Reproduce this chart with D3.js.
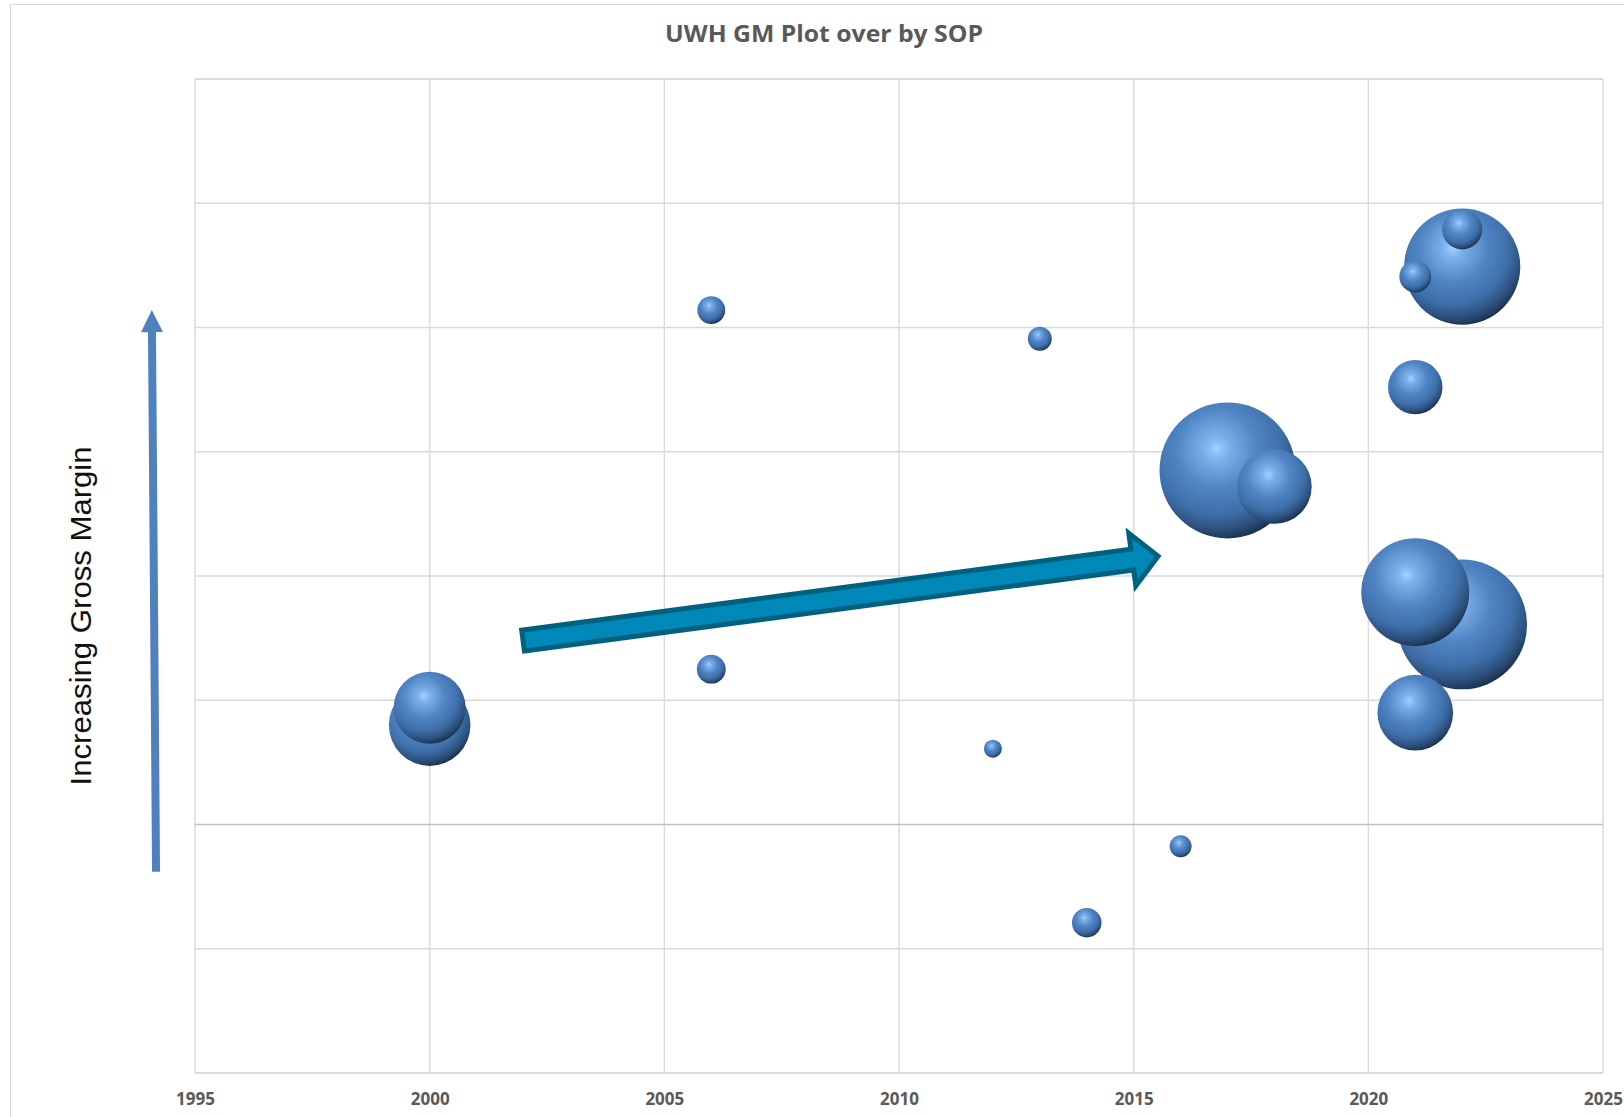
<!DOCTYPE html>
<html>
<head>
<meta charset="utf-8">
<script src="https://cdn.jsdelivr.net/npm/d3@7"></script>
<style>
  body { margin: 0; background: #fff; }
</style>
</head>
<body>
<script>
"use strict";

const years = [2000, 2000, 2006, 2006, 2012, 2013, 2014, 2016, 2017, 2018, 2021, 2021, 2021, 2021, 2022, 2022, 2022];
const grossMargin = [8.0, 9.4, 41.4, 12.5, 6.1, 39.1, -7.9, -1.75, 28.5, 27.2, 35.2, 18.7, 9.0, 44.1, 44.9, 47.9, 16.1];
const bubbleSizes = [36, 28, 4.2, 4.5, 1.75, 3.1, 4.7, 2.6, 100, 30, 16, 63, 31, 5.5, 73, 8.7, 91];
const xTicks = [1995, 2000, 2005, 2010, 2015, 2020, 2025];
const yTicks = [-20, -10, 0, 10, 20, 30, 40, 50, 60];
const chartTitle = "UWH GM Plot over by SOP";
const axisNote = "Increasing Gross Margin";

// annotation arrows, given in data units
const trendArrow = [[2001.99, 14.8], [2015.52, 21.6]];
const marginArrow = [[1994.17, -3.8], [1994.08, 41.4]];

const width = 1624;
const height = 1117;
const plot = { left: 195, right: 1603, top: 79, bottom: 1073 };

const svg = d3.select("body")
  .append("svg")
    .attr("width", width)
    .attr("height", height);

const defs = svg.append("defs");
const grad = defs.append("radialGradient")
  .attr("id", "sphere")
  .attr("cx", 0.42)
  .attr("cy", 0.34)
  .attr("r", 0.75);
[
  [0, "#a2d1ff"],
  [0.12, "#7cb0ea"],
  [0.4, "#4f84c4"],
  [0.64, "#3f6fa9"],
  [0.8, "#2b4f7b"],
  [0.92, "#172b43"],
  [1, "#0d1826"]
].forEach(([o, c]) => grad.append("stop").attr("offset", o).attr("stop-color", c));

// chart border
svg.append("rect")
  .attr("x", 10.5)
  .attr("y", 4.5)
  .attr("width", 1700)
  .attr("height", 1300)
  .attr("fill", "none")
  .attr("stroke", "#d9d9d9");

const x = d3.scaleLinear().domain([1995, 2025]).range([plot.left, plot.right]);
const y = d3.scaleLinear().domain([-20, 60]).range([plot.bottom, plot.top]);
const r = d3.scaleSqrt().domain([0, d3.max(bubbleSizes)]).range([0, 68]);

// gridlines
svg.append("g")
  .selectAll("line")
  .data(xTicks)
  .enter()
  .append("line")
    .attr("x1", (d) => x(d))
    .attr("x2", (d) => x(d))
    .attr("y1", plot.top)
    .attr("y2", plot.bottom)
    .attr("stroke", "#d9d9d9")
    .attr("stroke-width", 1.4);

svg.append("g")
  .selectAll("line")
  .data(yTicks)
  .enter()
  .append("line")
    .attr("x1", plot.left)
    .attr("x2", plot.right)
    .attr("y1", (d) => y(d))
    .attr("y2", (d) => y(d))
    .attr("stroke", (d) => d === 0 ? "#bfbfbf" : "#d9d9d9")
    .attr("stroke-width", (d) => (d === yTicks[0] || d === yTicks[yTicks.length - 1]) ? 2 : 1.4);

// x axis labels
const xAxis = svg.append("g")
  .attr("transform", `translate(0,${plot.bottom + 32})`)
  .call(d3.axisBottom(x).tickValues(xTicks).tickFormat(d3.format("d")).tickSize(0).tickPadding(0));
xAxis.select(".domain").remove();
xAxis.selectAll("text")
  .attr("dy", 0)
  .style("font-family", "'Open Sans', sans-serif")
  .style("font-size", "17px")
  .style("font-weight", 700)
  .attr("fill", "#595959");

// title
svg.append("text")
  .attr("x", 824)
  .attr("y", 42)
  .attr("text-anchor", "middle")
  .attr("textLength", 318)
  .attr("lengthAdjust", "spacingAndGlyphs")
  .style("font-family", "'Open Sans', sans-serif")
  .style("font-size", "24px")
  .style("font-weight", 700)
  .attr("fill", "#595959")
  .text(chartTitle);

function arrowPoints(p0, p1, w, hw, hl) {
  const dx = p1[0] - p0[0];
  const dy = p1[1] - p0[1];
  const len = Math.hypot(dx, dy);
  const ux = dx / len, uy = dy / len;
  const nx = -uy, ny = ux;
  const bx = p1[0] - ux * hl, by = p1[1] - uy * hl;
  return [
    [p0[0] + nx * w / 2, p0[1] + ny * w / 2],
    [bx + nx * w / 2, by + ny * w / 2],
    [bx + nx * hw / 2, by + ny * hw / 2],
    p1,
    [bx - nx * hw / 2, by - ny * hw / 2],
    [bx - nx * w / 2, by - ny * w / 2],
    [p0[0] - nx * w / 2, p0[1] - ny * w / 2]
  ];
}

const toPx = (d) => [x(d[0]), y(d[1])];

// side arrow + label
svg.append("polygon")
  .attr("points", arrowPoints(toPx(marginArrow[0]), toPx(marginArrow[1]), 8, 22, 22).join(" "))
  .attr("fill", "#4f81bd");

svg.append("text")
  .attr("transform", `translate(91,${(y(marginArrow[0][1]) + y(marginArrow[1][1])) / 2 + 25}) rotate(-90)`)
  .attr("text-anchor", "middle")
  .attr("textLength", 339)
  .attr("lengthAdjust", "spacingAndGlyphs")
  .style("font-family", "'Liberation Sans', Arial, sans-serif")
  .style("font-size", "29px")
  .attr("fill", "#111")
  .text(axisNote);

// bubbles, biggest first so the small ones stay visible
const bubbles = years.map((yr, i) => ({ year: yr, gm: grossMargin[i], size: bubbleSizes[i] }))
  .sort((a, b) => b.size - a.size);

svg.append("g")
  .selectAll("circle")
  .data(bubbles)
  .enter()
  .append("circle")
    .attr("cx", (d) => x(d.year))
    .attr("cy", (d) => y(d.gm))
    .attr("r", (d) => r(d.size))
    .attr("fill", "url(#sphere)");

// trend arrow
svg.append("polygon")
  .attr("points", arrowPoints(toPx(trendArrow[0]), toPx(trendArrow[1]), 21, 53, 26).join(" "))
  .attr("fill", "#0088b8")
  .attr("stroke", "#00617f")
  .attr("stroke-width", 5)
  .attr("stroke-linejoin", "miter");
</script>
</body>
</html>
